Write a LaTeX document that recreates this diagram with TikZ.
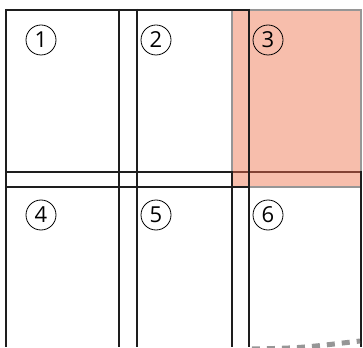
\documentclass[tikz,border=0pt]{standalone}
\usepackage{fontspec}
\newfontfamily\numfont{Open Sans}
\begin{document}
\begin{tikzpicture}[x=1pt,y=-1pt,
  every node/.style={circle, draw, line width=0.8pt, minimum size=30pt, inner sep=0pt, font=\numfont\fontsize{22}{22}\selectfont},
  rule/.style={line width=2.2pt, color={rgb,255:red,30;green,30;blue,30}}]
\useasboundingbox (0,0) rectangle (363,347);
% line under the highlighted page
\draw[rule] (6,172) -- (361,172);
\fill[fill={rgb,255:red,247;green,190;blue,172}] (232,10) rectangle (361,187);
\draw[line width=1.8pt, color={rgb,255:red,130;green,66;blue,52}] (233,172) -- (360,172);
\draw[line width=2pt, color={rgb,255:red,150;green,150;blue,150}] (232,10) rectangle (361,187);
% page edges
\draw[rule] (6,10) -- (249,10);
\draw[rule] (6,187) -- (249,187);
\draw[rule] (6,9) -- (6,347);
\draw[rule] (119,9) -- (119,347);
\draw[rule] (137,9) -- (137,347);
\draw[rule] (249,9) -- (249,347);
\draw[rule] (232,171) -- (232,347);
\draw[rule] (361,171) -- (361,347);
% fold mark
\draw[line width=5pt, color={rgb,255:red,150;green,150;blue,150}, dash pattern=on 8pt off 7pt] (252,349) .. controls (300,348) .. (360,341);
% page numbers
\node (p1) at (41,40) {1};
\node (p2) at (156,40) {2};
\node (p3) at (268,40) {3};
\node (p4) at (41,215) {4};
\node (p5) at (156,215) {5};
\node (p6) at (268,215) {6};
\end{tikzpicture}
\end{document}
